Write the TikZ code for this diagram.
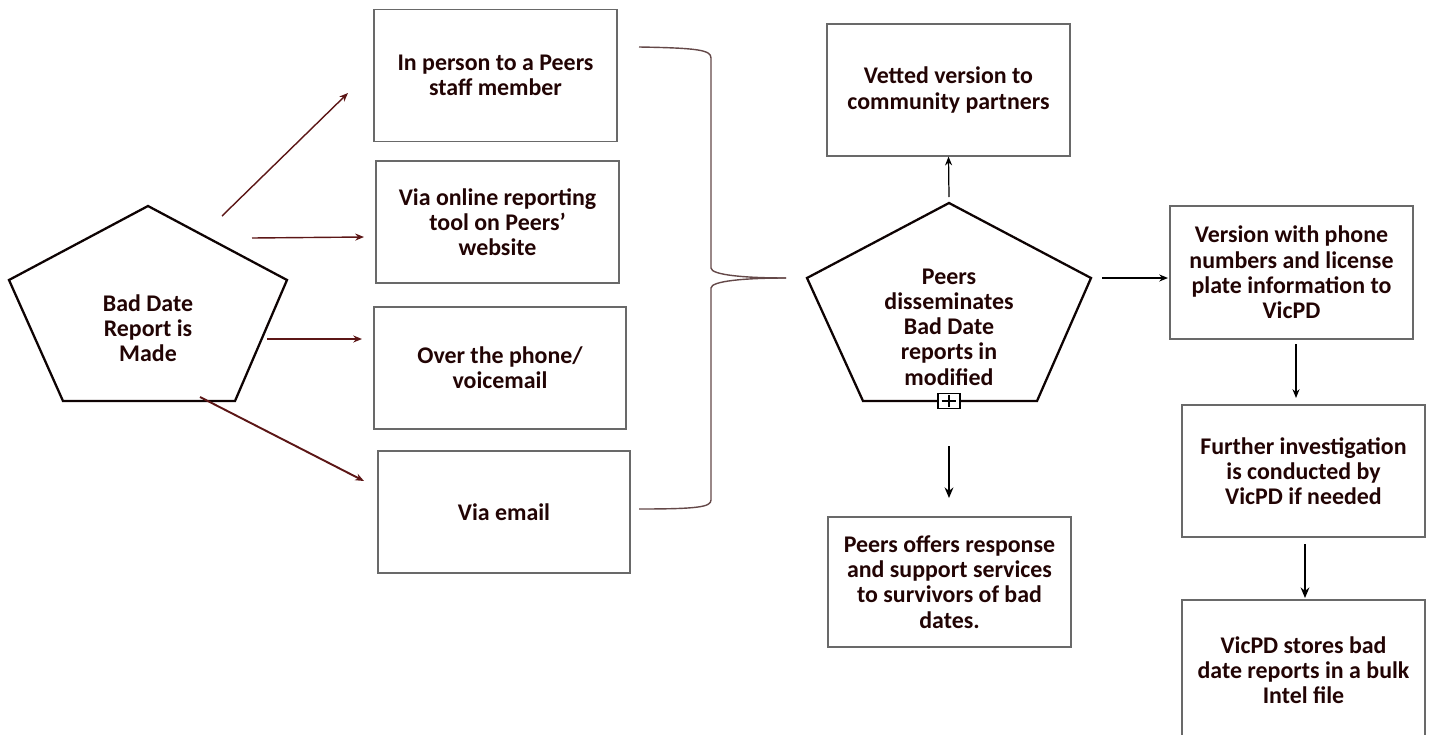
\documentclass[tikz,border=0pt]{standalone}
\usepackage{fontspec}
\setmainfont{Carlito}
\usepackage{xcolor}
\usepackage{tikz}
\usetikzlibrary{positioning}
\usetikzlibrary{arrows, arrows.meta}

\definecolor{inkred}{RGB}{92,22,22}
\definecolor{boxgrey}{RGB}{105,105,105}
\definecolor{textdark}{RGB}{34,4,4}

\tikzset{
  stepbox/.style={draw=boxgrey, line width=0.7pt, minimum width=4.86cm, minimum height=2.64cm,
    align=center, font=\fontsize{13.6}{14.4}\selectfont\bfseries, text=textdark},
  pentatext/.style={align=center, font=\fontsize{13.6}{14.4}\selectfont\bfseries, text=textdark},
  penta/.style={draw=black!85!inkred, line width=1.3pt, line join=miter},
  redlink/.style={draw=inkred, line width=0.8pt, -{Stealth[length=5pt,width=4pt]}},
  thinlink/.style={draw=black, line width=0.7pt, -{Stealth[length=5pt,width=4pt]}},
  biglink/.style={draw=black, line width=1.3pt, -{Stealth[length=6pt,width=5pt]}},
  brace/.style={draw=boxgrey!60!inkred, line width=0.8pt}
}

\begin{document}
\begin{tikzpicture}[x=0.02cm, y=-0.02cm]
  \useasboundingbox (0,0) rectangle (1430,734);

  % report pentagon
  \coordinate (L1) at (148,206);
  \coordinate (L2) at (287,280);
  \coordinate (L3) at (235,401);
  \coordinate (L4) at (63,401);
  \coordinate (L5) at (9,280);
  \draw[penta] (L1) -- (L2) -- (L3) -- (L4) -- (L5) -- cycle;
  \node[pentatext] (report) at (148,328) {Bad Date\\Report is\\Made};

  % the four ways in
  \node[stepbox] (inperson) at (495.5,75.5) {In person to a Peers\\staff member};
  \node[stepbox, minimum height=2.44cm] (online) at (497.5,222) {Via online reporting\\tool on Peers’\\website};
  \node[stepbox, minimum height=2.44cm, minimum width=5.04cm] (phone) at (500,368) {Over the phone/\\voicemail};
  \node[stepbox, minimum height=2.44cm, minimum width=5.04cm] (email) at (504,512) {Via email};

  \coordinate (s1) at (222,216);
  \coordinate (e1) at (348,93);
  \coordinate (s2) at (252,238);
  \coordinate (e2) at (364,237);
  \coordinate (s3) at (267,339);
  \coordinate (e3) at (362,339);
  \coordinate (s4) at (200,397);
  \coordinate (e4) at (364,481);
  \draw[redlink] (s1) -- (e1);
  \draw[redlink] (s2) -- (e2);
  \draw[redlink] (s3) -- (e3);
  \draw[redlink, line width=1.1pt] (s4) -- (e4);

  % brace
  \coordinate (b1) at (639,47);
  \coordinate (btip) at (786,278);
  \coordinate (b2) at (639,509);
  \draw[brace] (b1) .. controls (698,48) and (711,50) .. (711,58) -- (711,268)
    .. controls (711,275) and (745,278) .. (btip);
  \draw[brace] (btip) .. controls (745,278) and (711,281) .. (711,288) -- (711,500)
    .. controls (711,507) and (698,509) .. (b2);

  % peers pentagon
  \coordinate (M1) at (949,203);
  \coordinate (M2) at (1091,278);
  \coordinate (M3) at (1037,401);
  \coordinate (M4) at (863,401);
  \coordinate (M5) at (807,278);
  \draw[penta] (M1) -- (M2) -- (M3) -- (M4) -- (M5) -- cycle;
  \node[pentatext] (dissem) at (949,327) {Peers\\disseminates\\Bad Date\\reports in\\modified};
  \node[draw=black, fill=white, line width=0.8pt, minimum width=0.44cm, minimum height=0.3cm,
    inner sep=0pt] (expand) at (949,401) {};
  \draw[line width=0.8pt] ([xshift=2.5pt]expand.west) -- ([xshift=-2.5pt]expand.east);
  \draw[line width=0.8pt] ([yshift=-1.5pt]expand.north) -- ([yshift=1.5pt]expand.south);

  \node[stepbox] (vetted) at (948.5,90) {Vetted version to\\community partners};
  \node[stepbox, minimum height=2.6cm] (offers) at (949.5,582) {Peers offers response\\and support services\\to survivors of bad\\dates.};

  \coordinate (m0) at (949,197);
  \draw[thinlink] (m0) -- (vetted.south);
  \coordinate (d0) at (949,446);
  \coordinate (d1) at (949,498);
  \draw[biglink] (d0) -- (d1);

  % police side
  \node[stepbox, minimum height=2.66cm] (version) at (1291.5,272.5) {Version with phone\\numbers and license\\plate information to\\VicPD};
  \node[stepbox] (further) at (1303.5,471) {Further investigation\\is conducted by\\VicPD if needed};
  \node[stepbox, minimum height=2.8cm] (stores) at (1303.5,670) {VicPD stores bad\\date reports in a bulk\\Intel file};

  \coordinate (r0) at (1102,278);
  \coordinate (r1) at (1168,278);
  \draw[thinlink] (r0) -- (r1);
  \coordinate (v0) at (1296,344);
  \coordinate (v1) at (1296,398);
  \draw[thinlink] (v0) -- (v1);
  \coordinate (f0) at (1305,544);
  \coordinate (f1) at (1305,598);
  \draw[biglink] (f0) -- (f1);
\end{tikzpicture}
\end{document}
